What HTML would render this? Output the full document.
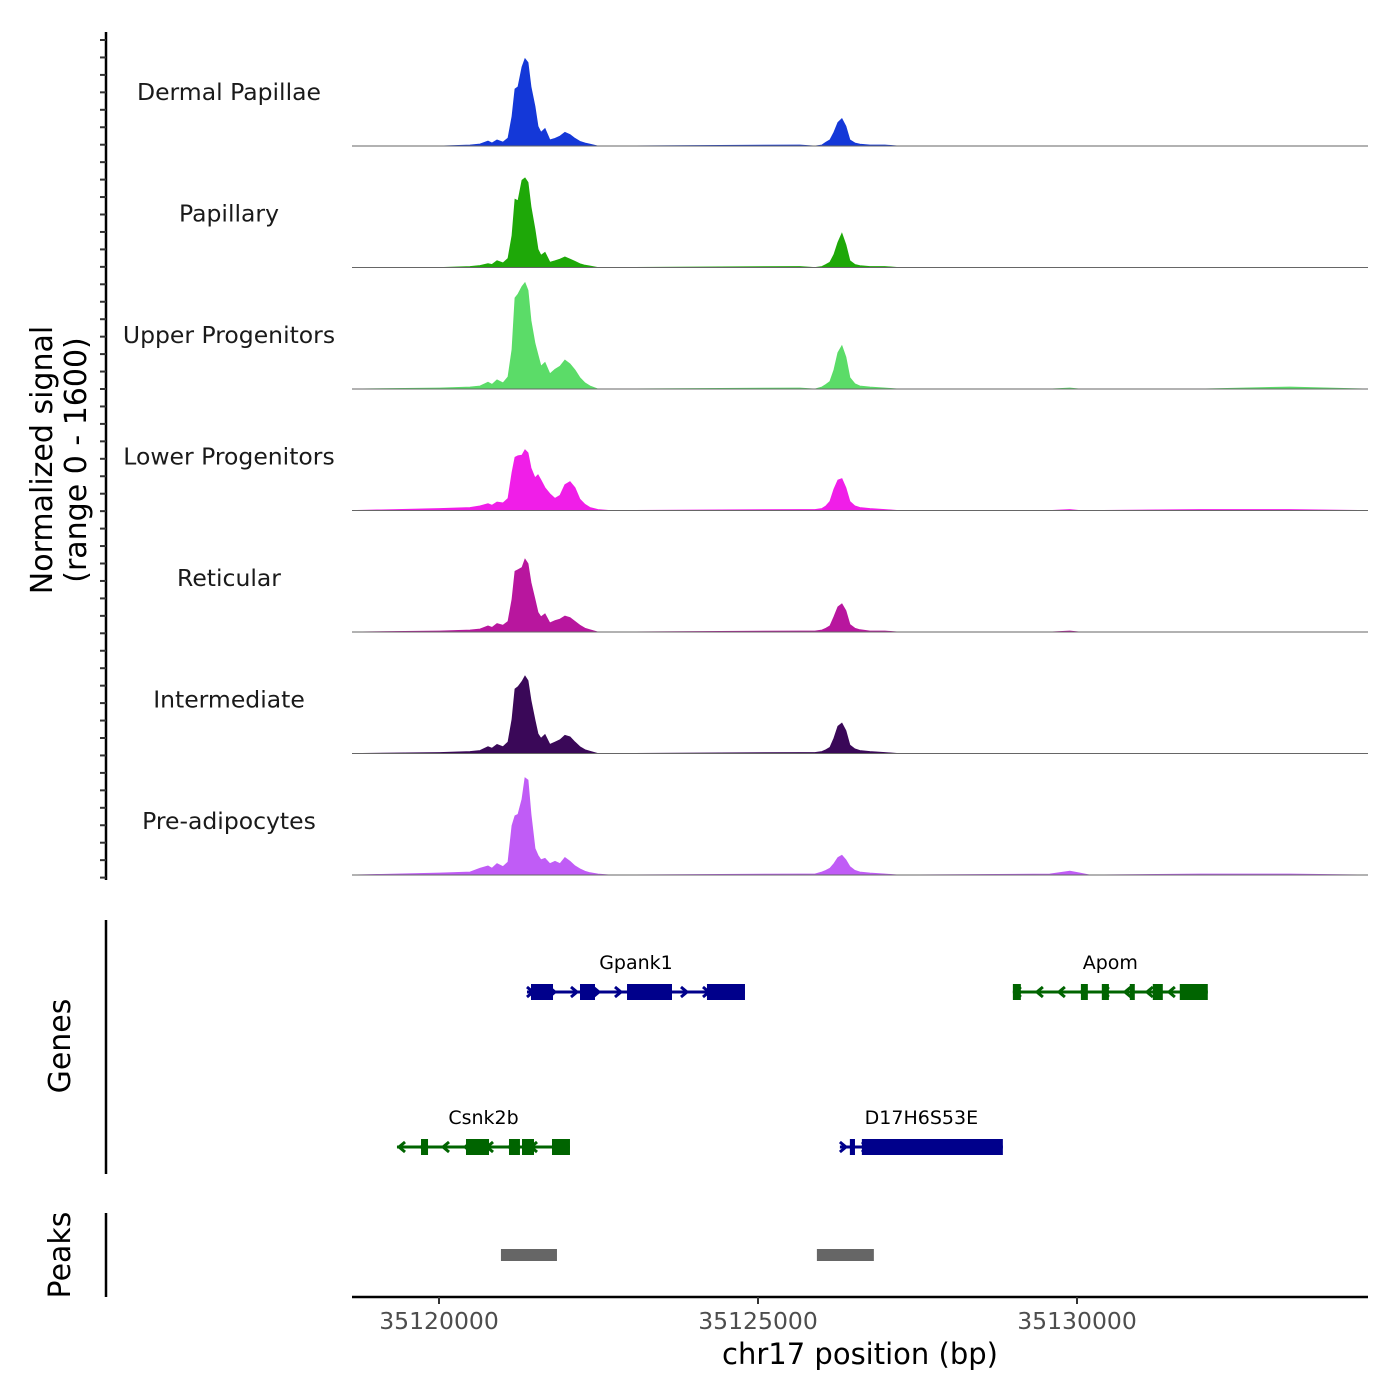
<!DOCTYPE html>
<html><head><meta charset="utf-8"><style>
body{margin:0;background:#fff}
svg{display:block;font-family:"DejaVu Sans","Liberation Sans",sans-serif}
</style></head><body>
<svg id="chart" width="1400" height="1400" viewBox="0 0 1400 1400" xmlns="http://www.w3.org/2000/svg"></svg>
<script>
const BASE = 35120000;
const trackNames = ["Dermal Papillae","Papillary","Upper Progenitors","Lower Progenitors","Reticular","Intermediate","Pre-adipocytes"];
const trackColors = ["#1438d8","#1ea808","#5bdc68","#f01ee8","#b8169e","#3a0858","#c05cf6"];
const positions = [16,486,642,768,830,909,1003,1081,1144,1191,1238,1301,1348,1395,1442,1504,1551,1598,1661,1739,1818,1896,1974,2053,2131,2209,2288,2366,2491,2680,5657,5892,6002,6065,6127,6190,6253,6315,6378,6440,6519,6597,6754,6989,7200,9574,9888,10044,10200,11925,13335];
const sigDermal = [0,13,26,65,40,80,52,104,390,750,780,1040,1150,1100,780,520,260,180,230,80,100,130,180,150,100,60,40,25,0,0,13,0,13,50,80,180,310,360,260,80,40,25,13,13,0,0,0,0,0,0,0];
const sigPapillary = [0,13,26,52,40,90,60,120,420,900,880,1150,1180,1120,800,500,240,160,200,70,90,110,140,110,80,50,30,20,0,0,13,0,13,40,70,170,330,450,300,90,40,25,13,13,0,0,0,0,0,0,0];
const sigUpper = [13,26,40,90,60,120,80,160,520,1200,1250,1350,1400,1300,900,600,450,300,350,200,260,300,380,330,250,150,80,40,0,0,13,0,26,60,100,250,480,570,420,150,70,40,26,13,0,0,13,0,0,0,26];
const sigLower = [26,40,60,90,70,110,100,160,500,700,720,730,800,760,560,430,470,400,300,220,160,200,340,380,300,150,80,40,13,0,13,13,26,60,120,280,400,420,300,120,60,40,26,13,0,0,13,0,0,13,13];
const sigReticular = [13,26,40,80,60,110,90,140,430,800,820,850,960,900,650,430,260,200,240,120,150,170,210,190,140,90,50,30,0,0,13,13,26,50,80,200,330,370,280,100,50,30,13,13,0,0,13,0,0,0,0];
const sigIntermediate = [13,26,40,90,70,120,90,150,450,850,880,950,1020,960,700,440,260,200,250,120,150,180,240,220,150,90,50,30,0,0,13,13,26,50,80,200,360,400,300,110,60,40,26,13,0,0,0,0,0,0,0];
const sigPreadip = [26,40,90,120,90,150,110,170,650,780,800,1000,1280,1250,800,350,260,200,220,150,180,150,230,180,120,80,50,30,13,0,13,13,40,60,90,150,230,260,200,110,60,40,26,13,0,13,50,26,0,13,13];
const signals = [sigDermal,sigPapillary,sigUpper,sigLower,sigReticular,sigIntermediate,sigPreadip];
const xTicks = [35120000,35125000,35130000];
const geneNames = ["Gpank1","Apom","Csnk2b","D17H6S53E"];
const geneStrands = [1,-1,-1,1];
const geneRows = [0,0,1,1];
const geneSpans = [[1379,4796],[8995,12050],[-658,2053],[6284,8838]];
const geneExons = [
 [[1442,1787],[2210,2445],[2947,3652],[4200,4796]],
 [[8995,9120],[10061,10170],[10389,10500],[10828,10906],[11188,11345],[11611,12050]],
 [[-282,-172],[423,784],[1097,1269],[1301,1489],[1771,2053]],
 [[6440,6520],[6628,8838]]
];
const peakRanges = [[971,1849],[5923,6816]];

const NS="http://www.w3.org/2000/svg";
const svg=document.getElementById('chart');
function mk(tag,attrs,parent){const e=document.createElementNS(NS,tag);for(const k in attrs)e.setAttribute(k,attrs[k]);(parent||svg).appendChild(e);return e;}
const xScale = bp => 439 + (bp-BASE)*319/5000;
const trackH = 121.5, firstBase = 146;
const yScale = (v,i) => firstBase + i*trackH - v/1600*trackH;

signals.forEach((s,i)=>{
  const g=mk('g',{});
  
  
  const base=yScale(0,i);
  let d='M352,'+base;
  positions.forEach((p,j)=>{d+=' L'+xScale(BASE+p).toFixed(1)+','+yScale(s[j],i).toFixed(1);});
  d+=' L1368,'+base+' Z';
  const a=mk('path',{d:d,fill:trackColors[i],stroke:trackColors[i],'stroke-width':0.8},g);
  
  
  const l=mk('line',{x1:352,x2:1368,y1:base,y2:base,stroke:'#666','stroke-width':1},g);
  
  
  const t=mk('text',{x:229,y:base-46,'text-anchor':'middle','font-size':23.5,fill:'#1a1a1a'},g);
  t.textContent=trackNames[i];
  
  
});
const ax=mk('line',{x1:106,x2:106,y1:32,y2:880,stroke:'#000','stroke-width':2.5});


for(let y=40;y<=878;y+=17.45){const t=mk('line',{x1:100,x2:106,y1:y,y2:y,stroke:'#333','stroke-width':2});}
const yt=mk('text',{transform:'translate(52,460) rotate(-90)','text-anchor':'middle','font-size':30,fill:'#000'});
yt.textContent='Normalized signal';


const yt2=mk('text',{transform:'translate(86,460) rotate(-90)','text-anchor':'middle','font-size':30,fill:'#000'});
yt2.textContent='(range 0 - 1600)';



const ga=mk('line',{x1:106,x2:106,y1:920,y2:1174,stroke:'#000','stroke-width':2.5});


const gt=mk('text',{transform:'translate(70,1046) rotate(-90)','text-anchor':'middle','font-size':30});
gt.textContent='Genes';


geneNames.forEach((n,i)=>{
  const col=geneStrands[i]>0?'#00008b':'#006400';
  const y=geneRows[i]?1147:992;
  const g=mk('g',{});
  
  
  const x1=xScale(BASE+geneSpans[i][0]),x2=xScale(BASE+geneSpans[i][1]);
  mk('line',{x1:x1,x2:x2,y1:y,y2:y,stroke:col,'stroke-width':3},g);
  const dir=geneStrands[i];
  for(let x=x1+4;x<x2;x+=22){
    mk('path',{d:`M${x-4*dir},${y-5} L${x+2*dir},${y} L${x-4*dir},${y+5}`,fill:'none',stroke:col,'stroke-width':3},g);
  }
  geneExons[i].forEach(e=>{
    const a=xScale(BASE+e[0]),b=xScale(BASE+e[1]);
    mk('rect',{x:a,y:y-8,width:Math.max(b-a,3),height:16,fill:col},g);
  });
  const t=mk('text',{x:(x1+x2)/2,y:y-23,'text-anchor':'middle','font-size':19,fill:'#000'},g);
  t.textContent=n;
});
const pa=mk('line',{x1:106,x2:106,y1:1213,y2:1297,stroke:'#000','stroke-width':2.5});


const pt=mk('text',{transform:'translate(70,1255) rotate(-90)','text-anchor':'middle','font-size':30});
pt.textContent='Peaks';


peakRanges.forEach(p=>{
  const a=xScale(BASE+p[0]),b=xScale(BASE+p[1]);
  const r=mk('rect',{x:a,y:1249,width:b-a,height:12,fill:'#666'});
  
  
});
const xa=mk('line',{x1:352,x2:1368,y1:1297,y2:1297,stroke:'#000','stroke-width':2.5});


xTicks.forEach(v=>{
  const x=xScale(v);
  const tk=mk('line',{x1:x,x2:x,y1:1297,y2:1304,stroke:'#333','stroke-width':2});
  
  
  const t=mk('text',{x:x,y:1329,'text-anchor':'middle','font-size':23.5,fill:'#4d4d4d'});
  t.textContent=String(v);
  
  
});
const xt=mk('text',{x:860,y:1364,'text-anchor':'middle','font-size':29,fill:'#000'});
xt.textContent='chr17 position (bp)';


</script>
</body></html>
